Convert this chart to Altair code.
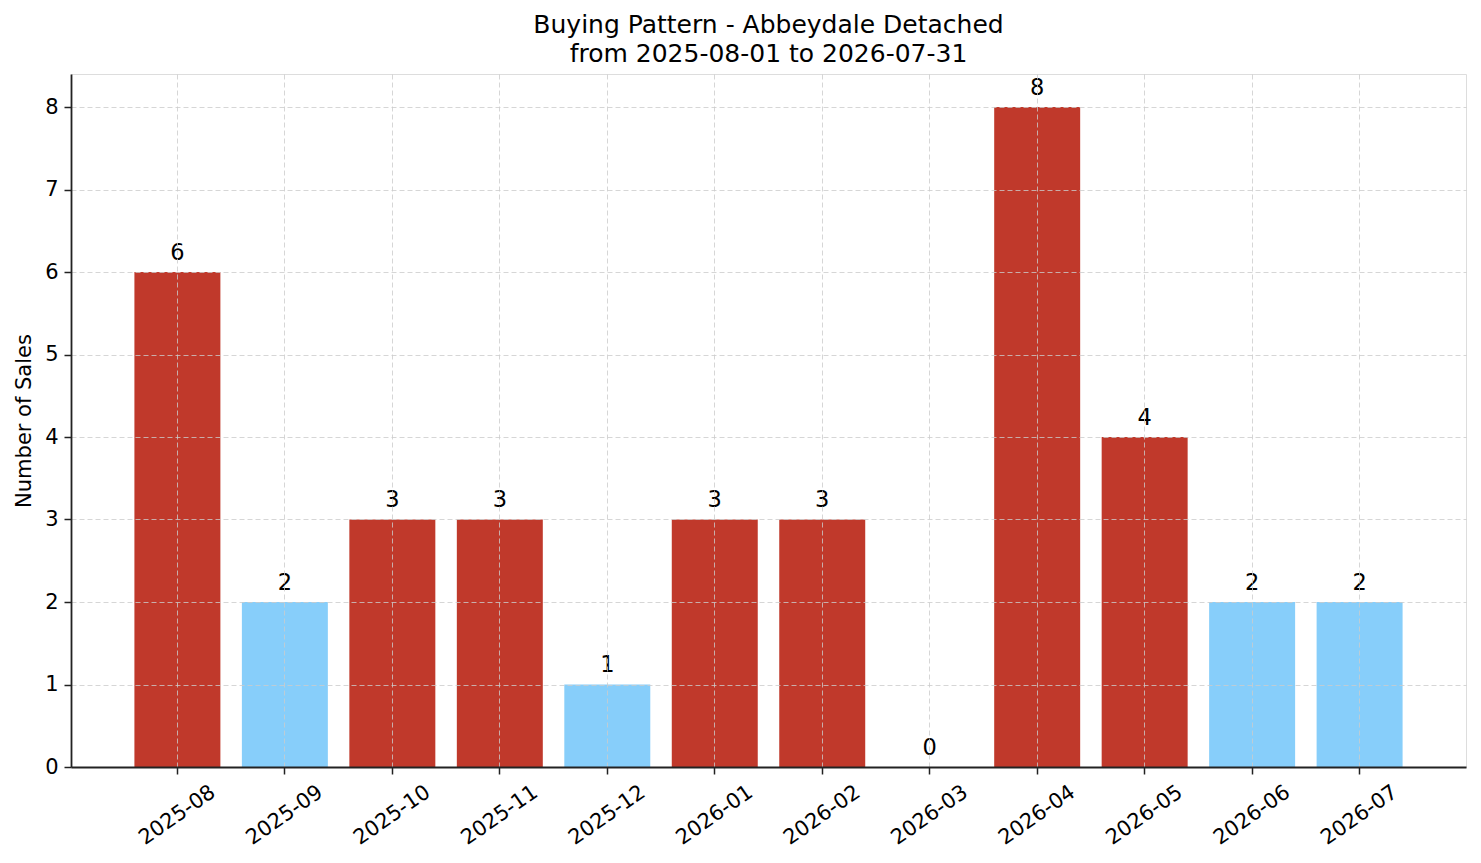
import pandas as pd
import altair as alt

months = ["2025-08", "2025-09", "2025-10", "2025-11", "2025-12", "2026-01",
          "2026-02", "2026-03", "2026-04", "2026-05", "2026-06", "2026-07"]
sales = [6, 2, 3, 3, 1, 3, 3, 0, 8, 4, 2, 2]

FONT = "DejaVu Sans"
RED = "#c0392b"
BLUE = "#87cefa"

df = pd.DataFrame({"month": months, "sales": sales})

base = alt.Chart(df).transform_calculate(
    level="datum.sales >= 3 ? 'high' : 'low'"
)

x_enc = alt.X(
    "month:N",
    sort=months,
    scale=alt.Scale(paddingInner=0.2, paddingOuter=0.59),
    axis=alt.Axis(
        title=None, labelAngle=-35, labelAlign="center", labelBaseline="middle",
        labelFontSize=21, labelFont=FONT, labelColor="#000000", labelPadding=41,
        tickSize=7, tickWidth=1.5, tickColor="#222222",
        domainColor="#222222", domainWidth=1.8,
        grid=True, gridDash=[5, 3], gridColor="#cccccc", gridWidth=0.8,
        bandPosition=0.5, zindex=1,
    ),
)

bars = base.mark_bar().encode(
    x=x_enc,
    y=alt.Y(
        "sales:Q",
        scale=alt.Scale(domain=[0, 8.4], nice=False),
        axis=alt.Axis(
            title="Number of Sales", titleFont=FONT, titleFontSize=21,
            titleFontWeight="normal", titleColor="#000000", titlePadding=10,
            values=list(range(0, 9)), format="d",
            labelFontSize=21, labelFont=FONT, labelColor="#000000", labelPadding=6,
            tickSize=7, tickWidth=1.5, tickColor="#222222",
            domainColor="#222222", domainWidth=1.8,
            grid=True, gridDash=[5, 3], gridColor="#cccccc", gridWidth=0.8,
            zindex=1,
        ),
    ),
    color=alt.Color(
        "level:N",
        scale=alt.Scale(domain=["high", "low"], range=[RED, BLUE]),
        legend=None,
    ),
)

labels = base.mark_text(
    baseline="alphabetic", dy=-12.5, fontSize=22.5, font=FONT, color="#000000"
).encode(
    x=alt.X("month:N", sort=months),
    y="sales:Q",
    text="sales:Q",
)

chart = (
    alt.layer(bars, labels)
    .properties(
        width=1395,
        height=693,
        autosize=alt.AutoSizeParams(type="none"),
        padding={"left": 63, "top": 66, "right": 7, "bottom": 88},
        title=alt.TitleParams(
            ["Buying Pattern - Abbeydale Detached", "from 2025-08-01 to 2026-07-31"],
            font=FONT, fontSize=25, fontWeight="normal", color="#000000",
            anchor="middle", lineHeight=29, offset=7,
        ),
    )
    .configure_view(stroke=None)
    .configure(background="white")
)

chart.save("out.html", embed_options={"renderer": "svg", "actions": False})
